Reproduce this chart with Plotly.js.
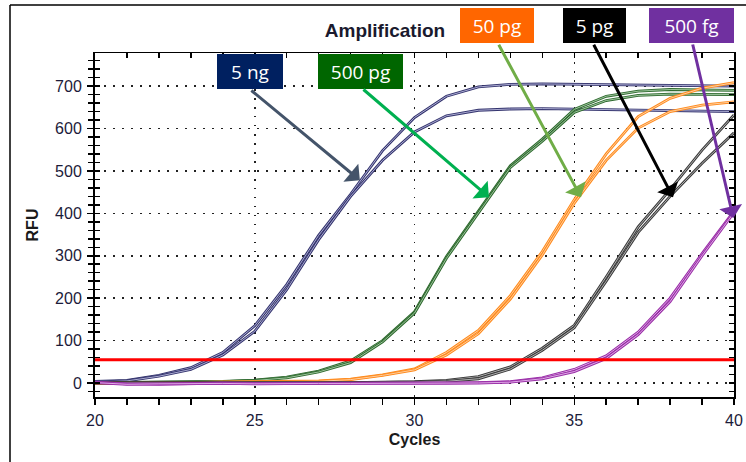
<!DOCTYPE html>
<html>
<head>
<meta charset="utf-8">
<script src="https://cdn.plot.ly/plotly-3.0.1.min.js"></script>
<style>html,body{margin:0;padding:0;background:#fff;}#chart{width:746px;height:462px;}</style>
</head>
<body>
<div id="chart"></div>
<script>
// ---- data ----
const cycles = [20,21,22,23,24,25,26,27,28,29,30,31,32,33,34,35,36,37,38,39,40];

const ng5_a   = [4,6,18,36,72,135,232,348,445,548,626,676,698,704,705,704,703,702,701,700,700];
const ng5_b   = [2,5,16,32,66,122,220,338,440,525,592,630,643,646,647,646,645,644,642,641,640];
const pg500_a = [1,2,2,3,4,7,14,28,52,100,168,298,405,512,575,645,676,688,692,691,690];
const pg500_b = [0,1,2,2,3,6,12,26,48,97,165,294,402,508,570,638,666,678,681,681,680];
const pg50_a  = [0,-1,0,1,1,2,3,5,9,19,33,72,124,206,310,432,540,628,671,695,708];
const pg50_b  = [0,0,1,1,2,2,3,4,8,18,31,66,116,198,302,424,525,601,640,655,663];
const pg5_a   = [1,1,0,1,0,0,1,1,1,2,3,6,15,38,82,136,250,368,456,549,632];
const pg5_b   = [0,0,-1,0,0,-1,0,0,1,1,2,4,10,33,77,130,240,355,440,518,590];
const fg500_a = [2,-2,-3,-1,0,-1,-1,0,0,-1,0,0,1,3,12,32,64,120,200,305,405];
const fg500_b = [1,-3,-2,-1,-1,-2,-1,-1,-1,-1,-1,0,0,2,10,27,58,114,192,300,402];

const threshold = 55;
const thresholdX = [20, 40];

const labels = ["5 ng", "500 pg", "50 pg", "5 pg", "500 fg"];
const chartTitle = "Amplification";
const xTitle = "Cycles";
const yTitle = "RFU";

// ---- styling ----
const series = [
  {ys:[ng5_a, ng5_b],   color:"#34346e", inner:"#b9b9dc"},
  {ys:[pg500_a, pg500_b], color:"#2f6a2f", inner:"#a9cfa9"},
  {ys:[pg50_a, pg50_b],  color:"#ff8a1c", inner:"#ffd6ad"},
  {ys:[pg5_a, pg5_b],    color:"#3a3a3a", inner:"#bdbdbd"},
  {ys:[fg500_a, fg500_b], color:"#9a2fa8", inner:"#e6b8ec"}
];

const traces = [];
series.forEach(s => {
  s.ys.forEach(y => {
    traces.push({x: cycles, y: y, mode:"lines", type:"scatter",
      line:{color:s.color, width:2.8}, hoverinfo:"skip", showlegend:false});
    traces.push({x: cycles, y: y, mode:"lines", type:"scatter",
      line:{color:s.inner, width:0.9}, hoverinfo:"skip", showlegend:false});
  });
});
traces.push({x: thresholdX, y: [threshold, threshold], mode:"lines", type:"scatter",
  line:{color:"#ff0000", width:3}, hoverinfo:"skip", showlegend:false});
// dummy traces to bring overlay axes to life
traces.push({x:[20], y:[threshold], xaxis:"x2", yaxis:"y2", mode:"markers", marker:{opacity:0}, hoverinfo:"skip", showlegend:false});
traces.push({x:[20], y:[threshold], xaxis:"x", yaxis:"y3", mode:"markers", marker:{opacity:0}, hoverinfo:"skip", showlegend:false});

const W = 746, H = 462, L = 95, R = 12, T = 53, B = 65;
const pw = W - L - R, ph = H - T - B;
const px = v => (v - L) / pw;
const py = v => (H - B - v) / ph;

const boxes = [
  {i:0, cx:250,   cy:71.5, w:66, h:35, bg:"#002060"},
  {i:1, cx:360.5, cy:71.5, w:85, h:35, bg:"#006600"},
  {i:2, cx:497,   cy:25.5, w:74, h:35, bg:"#ff6600"},
  {i:3, cx:594.5, cy:25.5, w:63, h:35, bg:"#000000"},
  {i:4, cx:691.5, cy:25.5, w:85, h:35, bg:"#7030a0"}
];
const arrows = [
  {x:28.29, y:478, ax:-110, ay:-91,  c:"#44546a"},
  {x:32.33, y:438, ax:-127, ay:-109, c:"#00b050"},
  {x:35.21, y:438, ax:-83,  ay:-154, c:"#70ad47"},
  {x:38.09, y:438, ax:-80,  ay:-154, c:"#000000"},
  {x:39.98, y:389, ax:-41,  ay:-175, c:"#7030a0"}
];

const annotations = [];
boxes.forEach(b => annotations.push({
  xref:"paper", yref:"paper", x:px(b.cx), y:py(b.cy), xanchor:"center", yanchor:"middle",
  text:labels[b.i], showarrow:false, bgcolor:b.bg, borderpad:0, borderwidth:0,
  width:b.w, height:b.h, font:{family:"Open Sans, Noto Sans, sans-serif", size:19, color:"#ffffff"}
}));
arrows.forEach(a => annotations.push({
  xref:"x", yref:"y", x:a.x, y:a.y, ax:a.ax, ay:a.ay, text:"", showarrow:true,
  arrowhead:1, arrowsize:1.3, arrowwidth:3, arrowcolor:a.c, standoff:0
}));

const tickFont = {family:"Liberation Sans, Arial, sans-serif", size:16, color:"#1c1c3a"};
const gridDash = "1.5px,7.5px";

const layout = {
  width:W, height:H,
  margin:{l:L, r:R, t:T, b:B, pad:0},
  paper_bgcolor:"#ffffff", plot_bgcolor:"#ffffff",
  showlegend:false,
  title:{text:chartTitle, x:385/W, xref:"container", y:1-30/H, yref:"container",
    xanchor:"center", yanchor:"middle",
    font:{family:"Liberation Sans, Arial, sans-serif", size:19, color:"#1a1a2e", weight:"bold"}},
  xaxis:{range:[20,40], dtick:5, tick0:20, ticks:"outside", ticklen:6, tickwidth:1.5, tickcolor:"#000",
    minor:{dtick:1, ticks:"outside", ticklen:6, tickwidth:1.5, tickcolor:"#000", showgrid:false},
    showline:true, linecolor:"#000", linewidth:2,
    showgrid:true, gridcolor:"#222", gridwidth:1.5, griddash:gridDash, zeroline:false,
    tickfont:tickFont, ticklabelstandoff:2,
    title:{text:xTitle, standoff:6, font:{family:"Liberation Sans, Arial, sans-serif", size:16, color:"#1a1a1a", weight:"bold"}}},
  xaxis2:{range:[20,40], overlaying:"x", side:"top", dtick:1, ticks:"inside", ticklen:5, tickwidth:1.5, tickcolor:"#000",
    showticklabels:false, showline:true, linecolor:"#000", linewidth:1.5, showgrid:false, zeroline:false},
  yaxis:{range:[-33,778], dtick:100, tick0:0, ticks:"outside", ticklen:6, tickwidth:1.5, tickcolor:"#000",
    minor:{dtick:20, tick0:0, ticks:"outside", ticklen:5, tickwidth:1.5, tickcolor:"#000", showgrid:false},
    showline:true, linecolor:"#000", linewidth:2,
    showgrid:true, gridcolor:"#222", gridwidth:1.5, griddash:gridDash, zeroline:false,
    tickfont:tickFont, ticklabelstandoff:2,
    title:{text:yTitle, standoff:12, font:{family:"Liberation Sans, Arial, sans-serif", size:16, color:"#1a1a1a", weight:"bold"}}},
  yaxis2:{range:[-33,778], overlaying:"y", side:"right", dtick:20, tick0:0, ticks:"inside", ticklen:5, tickwidth:1.5, tickcolor:"#000",
    showticklabels:false, showline:true, linecolor:"#000", linewidth:1.5, showgrid:false, zeroline:false},
  yaxis3:{range:[-33,778], overlaying:"y", side:"left", dtick:20, tick0:0, ticks:"inside", ticklen:5, tickwidth:1.5, tickcolor:"#000",
    showticklabels:false, showline:false, showgrid:false, zeroline:false},
  annotations: annotations,
  shapes:[
    {type:"line", xref:"paper", yref:"paper", x0:px(10), x1:px(10), y0:py(5), y1:py(470), line:{color:"#000", width:1.5}},
    {type:"line", xref:"paper", yref:"paper", x0:px(10), x1:px(760), y0:py(5), y1:py(5), line:{color:"#000", width:1.5}}
  ]
};

Plotly.newPlot("chart", traces, layout, {staticPlot:true, displayModeBar:false});
</script>
</body>
</html>
